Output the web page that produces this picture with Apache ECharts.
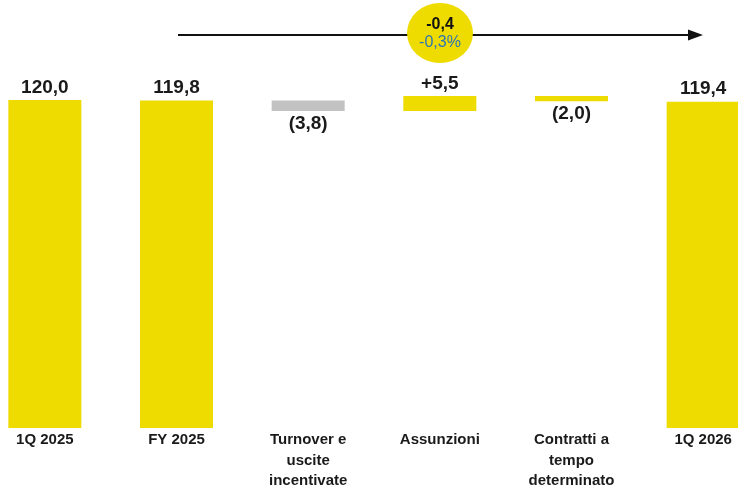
<!DOCTYPE html>
<html>
<head>
<meta charset="utf-8">
<script src="https://cdn.jsdelivr.net/npm/echarts@6/dist/echarts.min.js"></script>
<style>
  html, body { margin: 0; padding: 0; background: #fff; }
  #main { width: 738px; height: 488px; }
</style>
</head>
<body>
<div id="main"></div>
<script>
// dati del grafico
const categories = ['1Q 2025', 'FY 2025', 'Turnover e\nuscite\nincentivate', 'Assunzioni', 'Contratti a\ntempo\ndeterminato', '1Q 2026'];
const values = [120.0, 119.8, -3.8, 5.5, -2.0, 119.4];
const isTotal = [true, true, false, false, false, true];
const barColors = ['#EEDC00', '#EEDC00', '#C2C2C2', '#EEDC00', '#EEDC00', '#EEDC00'];
const deltaTotal = '-0,4';
const deltaPct = '-0,3%';

// base invisibile + barra visibile (cascata)
const base = [];
const height = [];
let run = 0;
values.forEach((v, i) => {
  if (isTotal[i]) {
    base.push(0);
    height.push(v);
    run = v;
  } else {
    const next = run + v;
    base.push(Math.min(run, next));
    height.push(Math.abs(v));
    run = next;
  }
});

const fmt = (v, i) => {
  const s = Math.abs(v).toFixed(1).replace('.', ',');
  if (isTotal[i]) return s;
  return v < 0 ? '(' + s + ')' : '+' + s;
};

const mychart = echarts.init(document.getElementById('main'));
const option = {
  animation: false,
  grid: { left: -21, width: 790, top: 18, bottom: 60, containLabel: false, outerBoundsMode: 'none' },
  xAxis: {
    type: 'category',
    data: categories,
    axisLine: { show: false },
    axisTick: { show: false },
    axisLabel: {
      interval: 0,
      margin: 2,
      color: '#1a1a1a',
      fontFamily: '"Liberation Sans", Arial, sans-serif',
      fontWeight: 'bold',
      fontSize: 15,
      lineHeight: 20.5
    }
  },
  yAxis: {
    type: 'value',
    min: 0,
    max: 150,
    show: false,
    splitLine: { show: false }
  },
  series: [
    {
      type: 'bar',
      stack: 'w',
      barWidth: 73,
      silent: true,
      itemStyle: { color: 'transparent' },
      data: base
    },
    {
      type: 'bar',
      stack: 'w',
      barWidth: 73,
      data: height.map((h, i) => ({
        value: h,
        itemStyle: { color: barColors[i] },
        label: {
          show: true,
          position: values[i] < 0 ? 'bottom' : 'top',
          distance: 3,
          formatter: () => fmt(values[i], i)
        }
      })),
      label: {
        color: '#1a1a1a',
        fontFamily: '"Liberation Sans", Arial, sans-serif',
        fontWeight: 'bold',
        fontSize: 19
      }
    }
  ],
  graphic: [
    {
      type: 'polyline',
      shape: { points: [[178, 35], [690, 35]] },
      style: { stroke: '#111', lineWidth: 2 }
    },
    {
      type: 'polygon',
      shape: { points: [[688, 29.5], [703, 35], [688, 40.5]] },
      style: { fill: '#111' }
    },
    {
      type: 'circle',
      x: 440, y: 33,
      scaleX: 1.1,
      shape: { cx: 0, cy: 0, r: 30 },
      style: { fill: '#EEDC00' }
    },
    {
      type: 'text',
      x: 440, y: 25,
      style: {
        text: deltaTotal,
        align: 'center', verticalAlign: 'middle',
        fill: '#111',
        font: 'bold 16px "Liberation Sans", Arial, sans-serif'
      }
    },
    {
      type: 'text',
      x: 440, y: 43,
      style: {
        text: deltaPct,
        align: 'center', verticalAlign: 'middle',
        fill: '#2E75B6',
        font: '16px "Liberation Sans", Arial, sans-serif'
      }
    }
  ]
};
mychart.setOption(option);
</script>
</body>
</html>
